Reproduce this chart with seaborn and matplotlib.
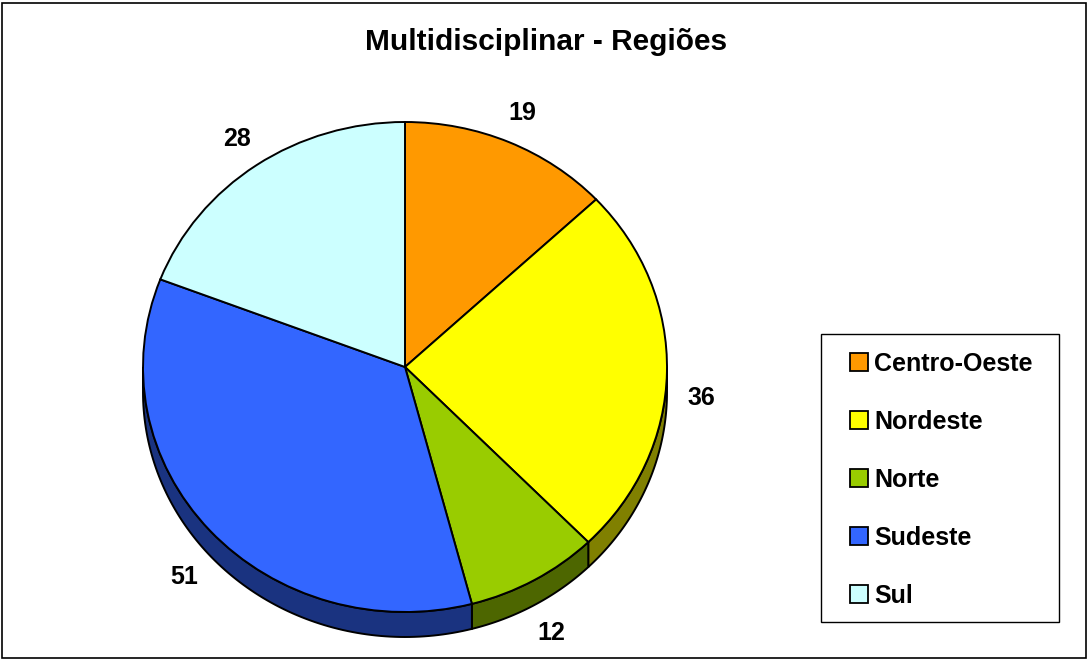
import numpy as np
import matplotlib
matplotlib.use('Agg')
import matplotlib.pyplot as plt
from matplotlib.patches import Patch, Polygon, Rectangle
import seaborn as sns

# dados
regioes = ['Centro-Oeste', 'Nordeste', 'Norte', 'Sudeste', 'Sul']
valores = [19, 36, 12, 51, 28]
cores = ['#FF9900', '#FFFF00', '#99CC00', '#3366FF', '#CCFFFF']
cores_lado = ['#7F4C00', '#808000', '#4D6600', '#1A3380', '#668080']

sns.set_theme(style='white')
plt.rcParams['font.family'] = ['Liberation Sans', 'DejaVu Sans']
plt.rcParams['font.weight'] = 'bold'
plt.rcParams['text.color'] = 'black'

W, H = 1088, 659
fig = plt.figure(figsize=(W / 100, H / 100), dpi=100)

# pizza: centro (405, 367) px, raios 262 x 245 px
cx, cy, rx, ry = 405, 367, 262, 245
xl, yl_top, yl_bot = 1.5, 1.2, 1.3
ax = fig.add_axes([(cx - xl * rx) / W, (H - cy - yl_bot * ry) / H,
                   2 * xl * rx / W, (yl_top + yl_bot) * ry / H])

pal = sns.color_palette(cores)
wedges, _ = ax.pie(valores, colors=pal, startangle=90, counterclock=False,
                   wedgeprops=dict(edgecolor='black', linewidth=1.4))
ax.set_aspect('auto')
ax.set_xlim(-xl, xl)
ax.set_ylim(-yl_bot, yl_top)
ax.axis('off')

# lateral 3D
prof = 25 / ry
for w, cl in zip(wedges, cores_lado):
    a, b = max(w.theta1, -180), min(w.theta2, 0)
    if b <= a:
        continue
    t = np.radians(np.linspace(a, b, 100))
    topo = np.column_stack([np.cos(t), np.sin(t)])
    base = np.column_stack([np.cos(t[::-1]), np.sin(t[::-1]) - prof])
    ax.add_patch(Polygon(np.vstack([topo, base]), closed=True, facecolor=cl,
                         edgecolor='black', linewidth=1.4, zorder=0.5))

# rótulos
r = 1.13
for w, v in zip(wedges, valores):
    m = np.radians((w.theta1 + w.theta2) / 2)
    x, y = r * np.cos(m), r * np.sin(m)
    if y < 0:
        y -= prof
    ax.text(x, y, str(v), ha='center', va='center', fontsize=18,
            fontweight='bold', color='black', clip_on=False)

fig.text(546 / W, 1 - 42 / H, 'Multidisciplinar - Regiões', ha='center',
         va='center', fontsize=21.5, fontweight='bold', color='black')

# legenda (moldura desenhada à parte)
handles = [Patch(facecolor=c, edgecolor='black', linewidth=1.3) for c in cores]
leg = fig.legend(handles, regioes, loc='center',
                 bbox_to_anchor=(941 / W, 1 - 480 / H),
                 prop={'weight': 'bold', 'size': 18},
                 handlelength=0.72, handleheight=0.72, handletextpad=0.25,
                 labelspacing=1.36, borderpad=0.5, frameon=False)
for t in leg.get_texts():
    t.set_color('black')
fig.patches.append(Rectangle((821 / W, 1 - 622 / H), 238 / W, 288 / H,
                             transform=fig.transFigure, fill=False,
                             edgecolor='black', linewidth=1.0))

# moldura
fig.patches.append(Rectangle((1.5 / W, 1.5 / H), (W - 4) / W, (H - 4) / H,
                             transform=fig.transFigure, fill=False,
                             edgecolor='black', linewidth=1.2))

plt.savefig('out.png', dpi=100)
